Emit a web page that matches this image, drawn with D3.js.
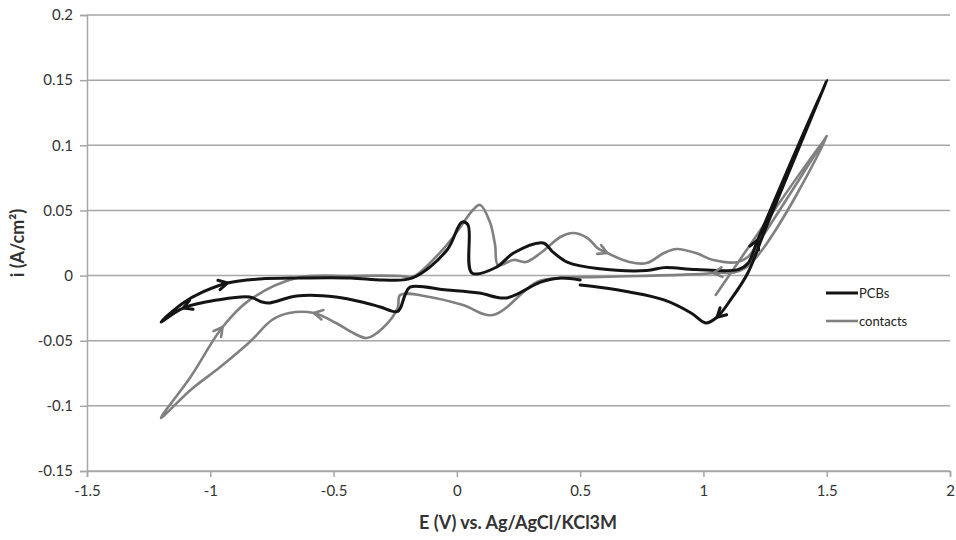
<!DOCTYPE html>
<html>
<head>
<meta charset="utf-8">
<script src="https://cdn.jsdelivr.net/npm/d3@7"></script>
<style>
  body { margin: 0; background: #fff; }
  text { font-family: Lato, "Liberation Sans", sans-serif; }
</style>
</head>
<body>
<div id="chart"></div>
<script>
// potential (V) and current density (A/cm2), in scan order
const pcbE = [0.50, 0.42, 0.34, 0.20, 0.09, -0.04, -0.19, -0.21, -0.24, -0.31, -0.37, -0.49, -0.65, -0.76, -0.79, -0.84, -0.97, -1.11, -1.20,
  -1.11, -1.03, -0.93, -0.80, -0.64, -0.43, -0.30, -0.18, -0.04, 0.02, 0.045, 0.061, 0.16, 0.23, 0.35, 0.39, 0.45, 0.57, 0.77, 0.84, 0.97, 1.14, 1.18, 1.22, 1.50,
  1.25, 1.18, 1.11, 1.055, 1.01, 0.95, 0.84, 0.70, 0.57, 0.50];
const pcbI = [-0.0034, -0.0019, -0.005, -0.0172, -0.0134, -0.0111, -0.0088, -0.0149, -0.0275, -0.0241, -0.021, -0.0164, -0.0157, -0.021, -0.0203, -0.0164, -0.0187, -0.0249, -0.0356,
  -0.021, -0.0126, -0.0057, -0.0026, -0.0018, -0.0018, -0.0034, -0.0018, 0.0196, 0.041, 0.039, 0.002, 0.0064, 0.0173, 0.025, 0.018, 0.0101, 0.0054, 0.0038, 0.0061, 0.0046, 0.0046, 0.0092, 0.0273, 0.150,
  0.035, 0.002, -0.0187, -0.032, -0.0364, -0.0287, -0.0187, -0.0126, -0.0088, -0.0072];

const conE = [1.05, 1.50, 1.17, 1.04, 0.90, 0.74, 0.58, 0.43, 0.325, 0.146, 0.025, -0.11, -0.23, -0.24, -0.30, -0.365, -0.42, -0.49, -0.58, -0.68, -0.75, -0.84, -0.96, -1.08, -1.20,
  -1.08, -0.95, -0.84, -0.65, -0.43, -0.23, -0.18, -0.07, 0.0, 0.065, 0.094, 0.134, 0.155, 0.167, 0.23, 0.28, 0.34, 0.42, 0.47, 0.53, 0.57, 0.61, 0.70, 0.77, 0.84, 0.89, 0.97, 1.04, 1.14, 1.18, 1.23, 1.50];
const conI = [-0.0149, 0.1071, 0.0058, 0.002, 0.0005, -0.0003, -0.0011, -0.0018, -0.0049, -0.0303, -0.0226, -0.0164, -0.0149, -0.0249, -0.0402, -0.0479, -0.0441, -0.0364, -0.0287, -0.0287, -0.0341, -0.051, -0.0702, -0.0878, -0.1093,
  -0.0778, -0.0395, -0.0187, -0.0019, -0.0003, -0.0003, -0.0011, 0.0173, 0.0334, 0.0503, 0.0542, 0.0411, 0.0235, 0.0081, 0.012, 0.0104, 0.0173, 0.0296, 0.0327, 0.0288, 0.0212, 0.0173, 0.0104, 0.0096, 0.0173, 0.0204, 0.0173, 0.0119, 0.0104, 0.0142, 0.0273, 0.1071];

// scan direction arrows: series and point index
const arrowIdx = [
  {s: "PCBs", i: 17}, {s: "PCBs", i: 21}, {s: "PCBs", i: 42}, {s: "PCBs", i: 47},
  {s: "contacts", i: 18}, {s: "contacts", i: 3}, {s: "contacts", i: 26}, {s: "contacts", i: 46}
];

const xTicks = [-1.5, -1, -0.5, 0, 0.5, 1, 1.5, 2];
const yTicks = [-0.15, -0.1, -0.05, 0, 0.05, 0.1, 0.15, 0.2];

const W = 956, H = 540;
const margin = {top: 15, right: 6, bottom: 69, left: 87};

const svg = d3.select("#chart").append("svg")
  .attr("width", W).attr("height", H);

const x = d3.scaleLinear().domain([-1.5, 2]).range([margin.left, W - margin.right]);
const y = d3.scaleLinear().domain([-0.15, 0.2]).range([H - margin.bottom, margin.top]);

const fmt = d => String(+d.toFixed(2));

// gridlines
svg.append("g")
  .selectAll("line").data(yTicks).join("line")
  .attr("x1", x(-1.5)).attr("x2", x(2))
  .attr("y1", d => y(d)).attr("y2", d => y(d))
  .attr("stroke", "#a6a6a6").attr("stroke-width", 1.5);

const yAxis = svg.append("g")
  .attr("transform", `translate(${margin.left},0)`)
  .call(d3.axisLeft(y).tickValues(yTicks).tickFormat(fmt).tickSize(7).tickPadding(7));
const xAxis = svg.append("g")
  .attr("transform", `translate(0,${H - margin.bottom})`)
  .call(d3.axisBottom(x).tickValues(xTicks).tickFormat(fmt).tickSize(6).tickPadding(8));

[xAxis, yAxis].forEach(g => {
  g.select(".domain").attr("stroke", "#a6a6a6").attr("stroke-width", 1.5);
  g.selectAll(".tick line").attr("stroke", "#a6a6a6").attr("stroke-width", 1.5);
  g.selectAll(".tick text").attr("fill", "#333").style("font-size", "15px");
});

const series = [
  {name: "PCBs", E: pcbE, I: pcbI, color: "#141414", width: 3},
  {name: "contacts", E: conE, I: conI, color: "#808080", width: 2.6}
];

const line = d3.line()
  .x(d => x(d[0])).y(d => y(d[1]))
  .curve(d3.curveCatmullRom.alpha(0.5));

// contacts under PCBs
series.slice().reverse().forEach(s => {
  const pts = s.E.map((e, k) => [e, s.I[k]]);
  svg.append("path")
    .datum(pts)
    .attr("d", line)
    .attr("fill", "none")
    .attr("stroke", s.color)
    .attr("stroke-width", s.width)
    .attr("stroke-linejoin", "round")
    .attr("stroke-linecap", "round");
});

// arrow heads along the scan direction
arrowIdx.forEach(a => {
  const s = series.find(d => d.name === a.s);
  const px = x(s.E[a.i]), py = y(s.I[a.i]);
  const dx = x(s.E[a.i + 1]) - x(s.E[a.i - 1]);
  const dy = y(s.I[a.i + 1]) - y(s.I[a.i - 1]);
  const ang = Math.atan2(dy, dx);
  const L = 10, spread = 0.5;
  const p1 = [px - L * Math.cos(ang - spread), py - L * Math.sin(ang - spread)];
  const p2 = [px - L * Math.cos(ang + spread), py - L * Math.sin(ang + spread)];
  svg.append("path")
    .attr("d", `M${p1[0]},${p1[1]}L${px},${py}L${p2[0]},${p2[1]}`)
    .attr("fill", "none")
    .attr("stroke", s.color)
    .attr("stroke-width", s.width)
    .attr("stroke-linecap", "round")
    .attr("stroke-linejoin", "round");
});

// legend
const legend = svg.append("g").attr("transform", "translate(826,293)");
series.forEach((s, k) => {
  const g = legend.append("g").attr("transform", `translate(0,${k * 28})`);
  g.append("line").attr("x1", 0).attr("x2", 32)
    .attr("stroke", s.color).attr("stroke-width", s.width);
  g.append("text").attr("x", 33).attr("dy", "0.35em")
    .attr("fill", "#222").style("font-size", "13px").text(s.name);
});

// axis titles
svg.append("text")
  .attr("x", 518).attr("y", 529)
  .attr("text-anchor", "middle")
  .style("font-size", "18px").style("font-weight", "bold").attr("fill", "#333")
  .text("E (V) vs. Ag/AgCl/KCl3M");

svg.append("text")
  .attr("transform", "translate(24,243) rotate(-90)")
  .attr("text-anchor", "middle")
  .style("font-size", "18px").style("font-weight", "bold").attr("fill", "#333")
  .text("i (A/cm²)");
</script>
</body>
</html>
